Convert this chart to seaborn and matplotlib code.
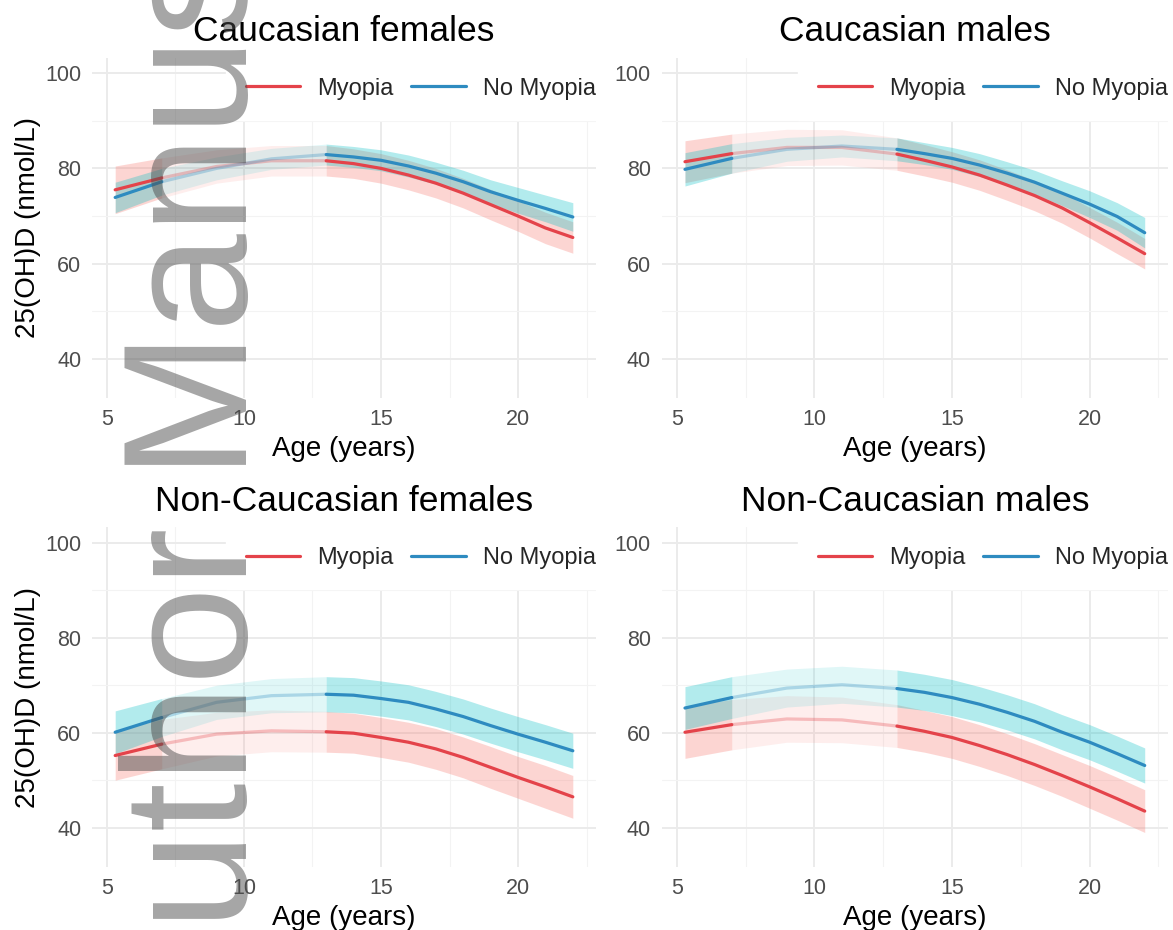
import numpy as np
import pandas as pd
import matplotlib
matplotlib.use("Agg")
import matplotlib.pyplot as plt
import seaborn as sns
from matplotlib.lines import Line2D
from matplotlib.ticker import MultipleLocator

ages = [5.3, 7, 9, 11, 13, 14, 15, 16, 17, 18, 19, 20, 21, 22]

panels = ["Caucasian females", "Caucasian males",
          "Non-Caucasian females", "Non-Caucasian males"]
groups = ["Myopia", "No Myopia"]

# Caucasian females
cf_myo = [75.5, 78.0, 80.4, 81.6, 81.6, 81.0, 80.0, 78.6, 76.9, 74.8, 72.4, 70.0, 67.5, 65.5]
cf_myo_lo = [70.5, 73.8, 76.9, 78.4, 78.4, 77.9, 76.9, 75.5, 73.8, 71.7, 69.2, 66.8, 64.2, 62.2]
cf_myo_hi = [80.5, 82.2, 83.9, 84.8, 84.8, 84.1, 83.1, 81.7, 80.0, 77.9, 75.6, 73.2, 70.8, 68.8]
cf_no = [73.9, 77.2, 80.0, 82.0, 82.9, 82.4, 81.7, 80.5, 79.0, 77.2, 75.1, 73.3, 71.6, 69.8]
cf_no_lo = [70.7, 74.4, 77.6, 79.8, 80.7, 80.2, 79.5, 78.2, 76.7, 74.8, 72.6, 70.6, 68.8, 66.8]
cf_no_hi = [77.1, 80.0, 82.4, 84.2, 85.1, 84.6, 83.9, 82.8, 81.3, 79.6, 77.6, 76.0, 74.4, 72.8]

# Caucasian males
cm_myo = [81.4, 83.1, 84.4, 84.4, 83.0, 81.7, 80.3, 78.6, 76.5, 74.3, 71.7, 68.6, 65.4, 62.1]
cm_myo_lo = [77.0, 79.0, 80.6, 80.7, 79.6, 78.4, 77.1, 75.4, 73.3, 71.1, 68.5, 65.4, 62.1, 58.9]
cm_myo_hi = [85.8, 87.2, 88.2, 88.1, 86.4, 85.0, 83.5, 81.8, 79.7, 77.5, 74.9, 71.8, 68.7, 65.3]
cm_no = [79.8, 82.1, 84.0, 84.7, 84.0, 83.1, 82.1, 80.7, 79.0, 77.1, 74.8, 72.5, 69.9, 66.5]
cm_no_lo = [76.3, 79.0, 81.5, 82.4, 81.6, 80.8, 79.8, 78.3, 76.6, 74.6, 72.2, 69.7, 67.0, 63.3]
cm_no_hi = [83.3, 85.2, 86.5, 87.0, 86.4, 85.4, 84.4, 83.1, 81.4, 79.6, 77.4, 75.3, 72.8, 69.7]

# Non-Caucasian females
nf_myo = [55.2, 57.6, 59.7, 60.4, 60.2, 59.9, 59.0, 58.0, 56.6, 54.8, 52.7, 50.6, 48.6, 46.5]
nf_myo_lo = [50.0, 52.4, 55.1, 56.0, 55.9, 55.7, 54.8, 53.8, 52.3, 50.5, 48.3, 46.2, 44.1, 42.0]
nf_myo_hi = [60.4, 62.8, 64.3, 64.8, 64.5, 64.1, 63.2, 62.2, 60.9, 59.1, 57.1, 55.0, 53.1, 51.0]
nf_no = [60.1, 63.2, 66.4, 67.8, 68.1, 67.9, 67.2, 66.4, 65.0, 63.4, 61.5, 59.7, 58.0, 56.2]
nf_no_lo = [55.6, 59.2, 62.8, 64.2, 64.4, 64.2, 63.5, 62.7, 61.3, 59.7, 57.8, 56.0, 54.3, 52.5]
nf_no_hi = [64.6, 67.2, 70.0, 71.4, 71.8, 71.6, 70.9, 70.1, 68.7, 67.1, 65.2, 63.4, 61.7, 59.9]

# Non-Caucasian males
nm_myo = [60.1, 61.7, 62.9, 62.7, 61.4, 60.3, 59.0, 57.3, 55.4, 53.3, 51.0, 48.6, 46.1, 43.5]
nm_myo_lo = [54.6, 56.4, 58.0, 57.9, 56.9, 55.9, 54.6, 52.9, 51.0, 48.9, 46.6, 44.1, 41.6, 39.0]
nm_myo_hi = [65.6, 67.0, 67.8, 67.5, 65.9, 64.7, 63.4, 61.7, 59.8, 57.7, 55.4, 53.1, 50.6, 48.0]
nm_no = [65.2, 67.4, 69.4, 70.1, 69.3, 68.5, 67.4, 66.0, 64.3, 62.4, 60.1, 58.0, 55.6, 53.1]
nm_no_lo = [60.7, 63.0, 65.4, 66.2, 65.4, 64.7, 63.6, 62.3, 60.6, 58.7, 56.4, 54.3, 51.9, 49.4]
nm_no_hi = [69.7, 71.8, 73.4, 74.0, 73.2, 72.3, 71.2, 69.7, 68.0, 66.1, 63.8, 61.7, 59.3, 56.8]

series = {
    "Caucasian females": [(cf_myo, cf_myo_lo, cf_myo_hi), (cf_no, cf_no_lo, cf_no_hi)],
    "Caucasian males": [(cm_myo, cm_myo_lo, cm_myo_hi), (cm_no, cm_no_lo, cm_no_hi)],
    "Non-Caucasian females": [(nf_myo, nf_myo_lo, nf_myo_hi), (nf_no, nf_no_lo, nf_no_hi)],
    "Non-Caucasian males": [(nm_myo, nm_myo_lo, nm_myo_hi), (nm_no, nm_no_lo, nm_no_hi)],
}

rows = []
for p in panels:
    for g, (fit, lo, hi) in zip(groups, series[p]):
        for a, f, l, h in zip(ages, fit, lo, hi):
            rows.append({"panel": p, "group": g, "age": a, "fit": f, "lo": l, "hi": h})
df = pd.DataFrame(rows)

line_cols = {"Myopia": "#E4434A", "No Myopia": "#2E8BC0"}
fill_cols = {"Myopia": "#F8766D", "No Myopia": "#00BFC4"}

sns.set_theme(style="white")
plt.rcParams["font.family"] = ["Liberation Sans", "DejaVu Sans"]

W, H = 1173, 930
fig = plt.figure(figsize=(W / 100, H / 100), dpi=100)

# panel boxes in pixels: left, top, right, bottom
boxes = [(92.3, 57.6, 595.7, 398.3), (662, 57.6, 1167.7, 398.3),
         (92.3, 527.3, 595.7, 866.9), (662, 527.3, 1167.7, 866.9)]

# observed range / faded middle range / observed range
segments = [(5.0, 7.0, 1.0), (7.0, 13.0, 0.3), (13.0, 22.5, 1.0)]

for i, p in enumerate(panels):
    l, t, r, b = boxes[i]
    ax = fig.add_axes([l / W, 1 - b / H, (r - l) / W, (b - t) / H])
    sub = df[df["panel"] == p]

    for lo_a, hi_a, fade in segments:
        seg = sub[(sub["age"] >= lo_a) & (sub["age"] <= hi_a)]
        for g in groups:
            s = seg[seg["group"] == g]
            ax.fill_between(s["age"], s["lo"], s["hi"], color=fill_cols[g],
                            alpha=0.3 * (0.4 if fade < 1 else 1), lw=0, zorder=2)
        sns.lineplot(data=seg, x="age", y="fit", hue="group", palette=line_cols,
                     alpha=fade, lw=2.3, legend=False, ax=ax, zorder=3,
                     estimator=None, errorbar=None)

    ax.set_xlim(4.465, 22.835)
    ax.set_ylim(31.75, 103.25)
    ax.set_xticks([5, 10, 15, 20])
    ax.set_yticks([40, 60, 80, 100])
    ax.xaxis.set_minor_locator(MultipleLocator(2.5))
    ax.yaxis.set_minor_locator(MultipleLocator(10))
    ax.grid(which="major", color="#EBEBEB", lw=1.4, zorder=0)
    ax.grid(which="minor", color="#F3F3F3", lw=0.8, zorder=0)
    ax.set_axisbelow(True)
    ax.tick_params(which="both", length=0, labelsize=15.5, labelcolor="#4D4D4D", pad=8)
    sns.despine(ax=ax, left=True, bottom=True)

    ax.set_title(p, fontsize=25.5, pad=12, color="black")
    ax.set_xlabel("Age (years)", fontsize=20, labelpad=4, color="black")
    if i % 2 == 0:
        ax.set_ylabel("25(OH)D (nmol/L)", fontsize=20, labelpad=3, color="black")
    else:
        ax.set_ylabel("")

    handles = [Line2D([], [], color=line_cols[g], lw=2.3) for g in groups]
    pad_px = 0.85 * 17 * 100 / 72
    ax.legend(handles, groups, ncol=2, loc="upper right",
              bbox_to_anchor=(1 + pad_px / (r - l), 1), borderaxespad=0,
              frameon=True, facecolor="white", edgecolor="white", framealpha=1,
              fancybox=False, fontsize=17, handlelength=2.3, handletextpad=0.72,
              columnspacing=0.76, borderpad=0.85)

# watermark of the source document
fig.text(247 / W, -117 / H, "Author Manuscript", rotation=90, rotation_mode="anchor",
         ha="left", va="baseline", fontsize=127, color=(0.3, 0.3, 0.3), alpha=0.5,
         family=["Liberation Sans", "DejaVu Sans"])

fig.savefig("out.png", dpi=100)
